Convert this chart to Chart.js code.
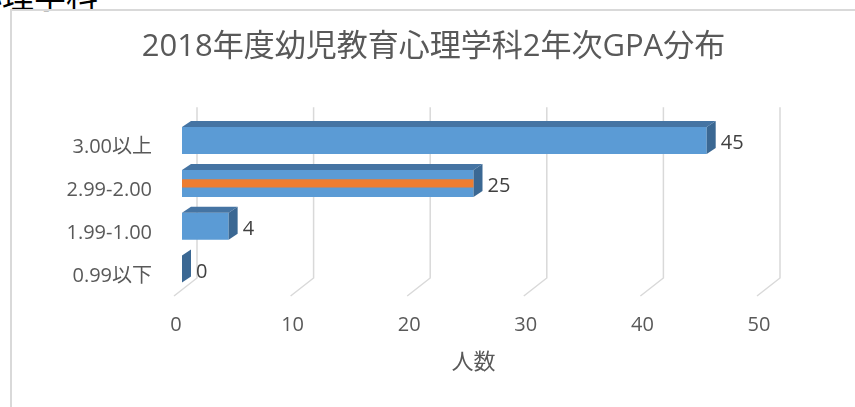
<!DOCTYPE html>
<html>
<head>
<meta charset="utf-8">
<script src="https://cdn.jsdelivr.net/npm/chart.js@4.4.1/dist/chart.umd.min.js"></script>
<style>
  html, body { margin: 0; padding: 0; background: #fff; width: 855px; height: 407px; overflow: hidden; }
  #wrap { position: relative; width: 855px; height: 407px; overflow: hidden; }
  #frame { position: absolute; left: 10px; top: 9px; width: 900px; height: 450px; border-left: 2px solid #d9d9d9; border-top: 2px solid #d9d9d9; }
  #above { position: absolute; left: -300px; width: 398px; top: -22px; text-align: right; font: 32px/1 'Noto Sans CJK JP', sans-serif; color: #000; white-space: nowrap; }
  canvas { position: absolute; left: 0; top: 0; }
</style>
</head>
<body>
<div id="wrap">
  <div id="above">幼児教育心理学科</div>
  <div id="frame"></div>
  <canvas id="chart" width="855" height="407"></canvas>
</div>
<script>
var chartTitle = "2018年度幼児教育心理学科2年次GPA分布";
var axisTitle = "人数";
var categories = ["3.00以上", "2.99-2.00", "1.99-1.00", "0.99以下"];
var counts = [45, 25, 4, 0];
var highlight = [null, 25, null, null];
var xTicks = [0, 10, 20, 30, 40, 50];

var fontFamily = "'Open Sans', 'Noto Sans CJK JP', sans-serif";
var depthX = 9;
var depthY = 6;

// draws the back walls / floor lines and the 3D faces of the bars
var bar3d = {
  id: "bar3d",
  beforeDatasetsDraw: function(chart) {
    var ctx = chart.ctx;
    var x = chart.scales.x;
    var area = chart.chartArea;
    ctx.save();
    ctx.strokeStyle = "#d9d9d9";
    ctx.lineWidth = 1.5;
    x.ticks.forEach(function(t) {
      var px = x.getPixelForValue(t.value);
      ctx.beginPath();
      ctx.moveTo(px + 15, area.top - 12);
      ctx.lineTo(px + 15, area.bottom - 12.5);
      ctx.lineTo(px - 8, area.bottom + 5.5);
      ctx.stroke();
    });
    ctx.restore();
  },
  afterDatasetDraw: function(chart, args) {
    if (args.index !== 0) return;
    var ctx = chart.ctx;
    ctx.save();
    args.meta.data.forEach(function(bar, i) {
      var p = bar.getProps(["x", "y", "base", "height"], true);
      var top = p.y - p.height / 2;
      var bottom = p.y + p.height / 2;

      // top face
      ctx.fillStyle = "#4574a3";
      ctx.beginPath();
      ctx.moveTo(p.base, top);
      ctx.lineTo(p.x, top);
      ctx.lineTo(p.x + depthX, top - depthY);
      ctx.lineTo(p.base + depthX, top - depthY);
      ctx.closePath();
      ctx.fill();

      // side face
      ctx.fillStyle = "#3b6893";
      ctx.beginPath();
      ctx.moveTo(p.x, top);
      ctx.lineTo(p.x + depthX, top - depthY);
      ctx.lineTo(p.x + depthX, bottom - depthY);
      ctx.lineTo(p.x, bottom);
      ctx.closePath();
      ctx.fill();

      // value label
      ctx.fillStyle = "#404040";
      ctx.font = "20px " + fontFamily;
      ctx.textAlign = "left";
      ctx.textBaseline = "middle";
      ctx.fillText(String(counts[i]), p.x + depthX + 5, p.y + 3);
    });
    ctx.restore();
  }
};

new Chart(document.getElementById("chart"), {
  type: "bar",
  data: {
    labels: categories,
    datasets: [
      {
        label: "人数",
        data: counts,
        backgroundColor: "#5b9bd5",
        borderWidth: 0,
        barPercentage: 0.63,
        categoryPercentage: 1,
        grouped: false,
        order: 1
      },
      {
        label: "highlight",
        data: highlight,
        backgroundColor: "#ed7d31",
        borderWidth: 0,
        barPercentage: 0.19,
        categoryPercentage: 1,
        grouped: false,
        order: 0
      }
    ]
  },
  options: {
    indexAxis: "y",
    responsive: false,
    animation: false,
    devicePixelRatio: 1,
    layout: { padding: { left: 12, right: 0, top: 0, bottom: 16.5 } },
    plugins: {
      legend: { display: false },
      tooltip: { enabled: false },
      title: {
        display: true,
        text: chartTitle,
        color: "#595959",
        font: { family: fontFamily, size: 31, weight: "normal" },
        padding: { top: 29, bottom: 53 }
      }
    },
    scales: {
      x: {
        min: xTicks[0],
        max: xTicks[xTicks.length - 1],
        afterBuildTicks: function(scale) {
          scale.ticks = xTicks.map(function(v) { return { value: v }; });
        },
        ticks: {
          color: "#595959",
          font: { family: fontFamily, size: 20 },
          padding: 23,
          labelOffset: -6
        },
        grid: { display: false, drawTicks: false },
        border: { display: false },
        title: {
          display: true,
          text: axisTitle,
          color: "#595959",
          font: { family: fontFamily, size: 22 },
          padding: { top: 0, bottom: 15 }
        },
        afterFit: function(scale) { scale.height = 100; }
      },
      y: {
        ticks: {
          color: "#595959",
          font: { family: fontFamily, size: 20 },
          padding: 30,
          labelOffset: 7
        },
        grid: { display: false, drawTicks: false },
        border: { display: false },
        afterFit: function(scale) { scale.width = 170; }
      },
      // empty right-hand axis that only reserves space
      yRight: {
        type: "linear",
        position: "right",
        ticks: { display: false },
        grid: { display: false, drawTicks: false },
        border: { display: false },
        afterFit: function(scale) { scale.width = 90; }
      }
    }
  },
  plugins: [bar3d]
});
</script>
</body>
</html>
